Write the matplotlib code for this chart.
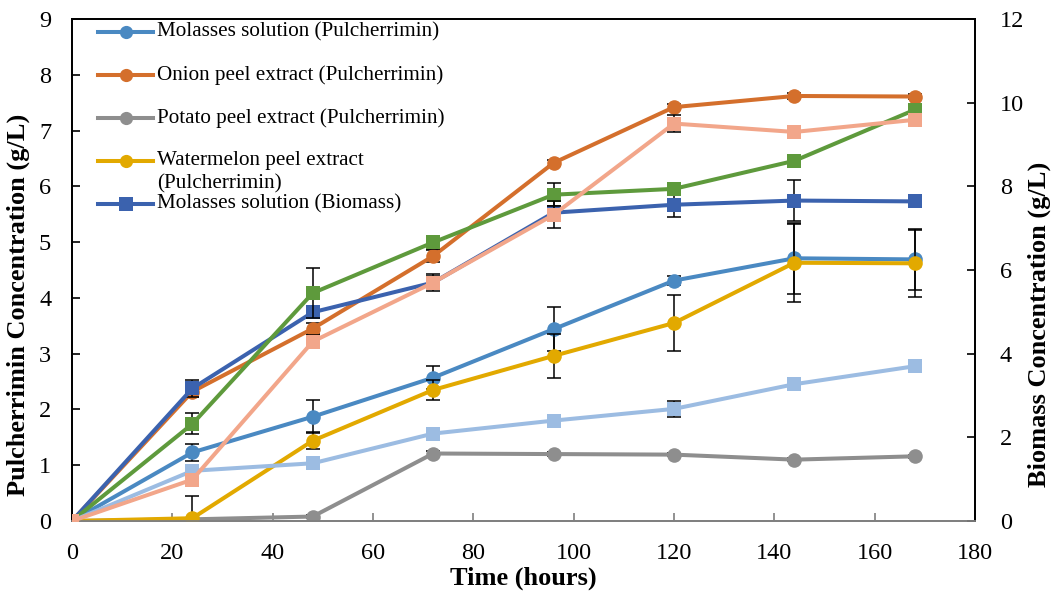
import matplotlib
matplotlib.use("Agg")
import matplotlib.pyplot as plt
from matplotlib.lines import Line2D

plt.rcParams['font.family'] = ['Liberation Serif', 'DejaVu Serif']

time = [0, 24, 48, 72, 96, 120, 144, 168]

# Pulcherrimin (g/L) - left axis
molasses_p = [0, 1.23, 1.87, 2.57, 3.44, 4.31, 4.71, 4.69]
molasses_p_err = [0, 0.15, 0.3, 0.2, 0.4, 0.08, 0.64, 0.55]
onion_p = [0, 2.32, 3.45, 4.75, 6.42, 7.42, 7.62, 7.61]
onion_p_err = [0, 0.1, 0.1, 0.1, 0.05, 0.05, 0.05, 0.05]
potato_p = [0, 0.03, 0.08, 1.21, 1.20, 1.19, 1.10, 1.16]
potato_p_err = [0, 0.02, 0.03, 0.05, 0.03, 0.03, 0.03, 0.03]
watermelon_p = [0, 0.05, 1.44, 2.35, 2.96, 3.55, 4.63, 4.62]
watermelon_p_err = [0, 0.4, 0.15, 0.18, 0.4, 0.5, 0.7, 0.6]

# Biomass (g/L) - right axis
molasses_b = [0, 3.17, 4.99, 5.70, 7.37, 7.56, 7.66, 7.64]
molasses_b_err = [0, 0.2, 0.1, 0.15, 0.15, 0.3, 0.5, 0.05]
watermelon_b = [0, 2.32, 5.45, 6.66, 7.80, 7.94, 8.61, 9.83]
watermelon_b_err = [0, 0.25, 0.6, 0.15, 0.28, 0.05, 0.15, 0.05]
potato_b = [0, 1.20, 1.38, 2.09, 2.40, 2.68, 3.27, 3.70]
potato_b_err = [0, 0.05, 0.05, 0.05, 0.05, 0.2, 0.05, 0.05]
onion_b = [0, 0.99, 4.29, 5.70, 7.32, 9.50, 9.30, 9.59]
onion_b_err = [0, 0.1, 0.15, 0.2, 0.32, 0.2, 0.05, 0.05]

legend_labels = ["Molasses solution (Pulcherrimin)",
                 "Onion peel extract (Pulcherrimin)",
                 "Potato peel extract (Pulcherrimin)",
                 "Watermelon peel extract",
                 "Molasses solution (Biomass)"]
legend_wrap = "(Pulcherrimin)"

c_mol_p = '#4A89C2'
c_oni_p = '#D46F2C'
c_pot_p = '#8E8E8E'
c_wat_p = '#E2A900'
c_mol_b = '#3B62AE'
c_wat_b = '#5E9A3C'
c_pot_b = '#9CBCE2'
c_oni_b = '#F2A68A'

W, H = 1051, 598
fig = plt.figure(figsize=(W / 100, H / 100), dpi=100)
ax = fig.add_axes([72 / W, 1 - 521 / H, (975 - 72) / W, (521 - 19) / H])
ax2 = ax.twinx()

lw = 2.9
ms = 10.5

def series(a, y, e, color, marker, z):
    a.errorbar(time, y, yerr=e, fmt='none', ecolor='black', elinewidth=1.1,
               capsize=5, capthick=1.1, zorder=z - 0.5)
    a.plot(time, y, color=color, lw=lw, marker=marker, ms=ms,
           markeredgewidth=0, zorder=z)

series(ax, molasses_p, molasses_p_err, c_mol_p, 'o', 3)
series(ax, onion_p, onion_p_err, c_oni_p, 'o', 4)
series(ax, potato_p, potato_p_err, c_pot_p, 'o', 5)
series(ax, watermelon_p, watermelon_p_err, c_wat_p, 'o', 6)

series(ax2, molasses_b, molasses_b_err, c_mol_b, 's', 3)
series(ax2, watermelon_b, watermelon_b_err, c_wat_b, 's', 4)
series(ax2, potato_b, potato_b_err, c_pot_b, 's', 5)
series(ax2, onion_b, onion_b_err, c_oni_b, 's', 6)

ax.set_xlim(0, 180)
ax.set_ylim(0, 9)
ax2.set_ylim(0, 12)
ax.set_xticks(range(0, 181, 20))
ax.set_yticks(range(0, 10))
ax2.set_yticks(range(0, 13, 2))

for a in (ax, ax2):
    a.tick_params(direction='in', labelsize=17.5, length=6, width=1.2)
    for s in a.spines.values():
        s.set_linewidth(1.3)
ax.spines['bottom'].set_color('#7f7f7f')
ax2.spines['bottom'].set_color('#7f7f7f')
ax.tick_params(axis='x', colors='#7f7f7f', labelcolor='black', pad=16)
ax.tick_params(axis='y', pad=15)
ax2.tick_params(axis='y', pad=18)

ax.set_xlabel("Time (hours)", fontsize=19, fontweight='bold')
ax.xaxis.set_label_coords(0.5, -0.09)
ax.set_ylabel("Pulcherrimin Concentration (g/L)", fontsize=19, fontweight='bold')
ax.yaxis.set_label_coords(-0.046, 0.43)
ax2.set_ylabel("Biomass Concentration (g/L)", fontsize=19, fontweight='bold')
ax2.yaxis.set_label_coords(1.058, 0.392)

# legend drawn manually
handles = [(c_mol_p, 'o'), (c_oni_p, 'o'), (c_pot_p, 'o'), (c_wat_p, 'o'), (c_mol_b, 's')]
ys = [32, 75, 118, 161, 204]
for (col, mk), lab, yy in zip(handles, legend_labels, ys):
    yf = 1 - yy / H
    fig.add_artist(Line2D([98 / W, 153 / W], [yf, yf], color=col, lw=lw, zorder=10))
    fig.add_artist(Line2D([125.5 / W], [yf], color=col, marker=mk, ms=ms - 1,
                          markeredgewidth=0, zorder=11))
    fig.text(157 / W, yf, lab, fontsize=15.2, va='center', ha='left', zorder=12)
fig.text(157 / W, 1 - 184 / H, legend_wrap, fontsize=15.2, va='center', ha='left', zorder=12)

fig.savefig("out.png", dpi=100)
